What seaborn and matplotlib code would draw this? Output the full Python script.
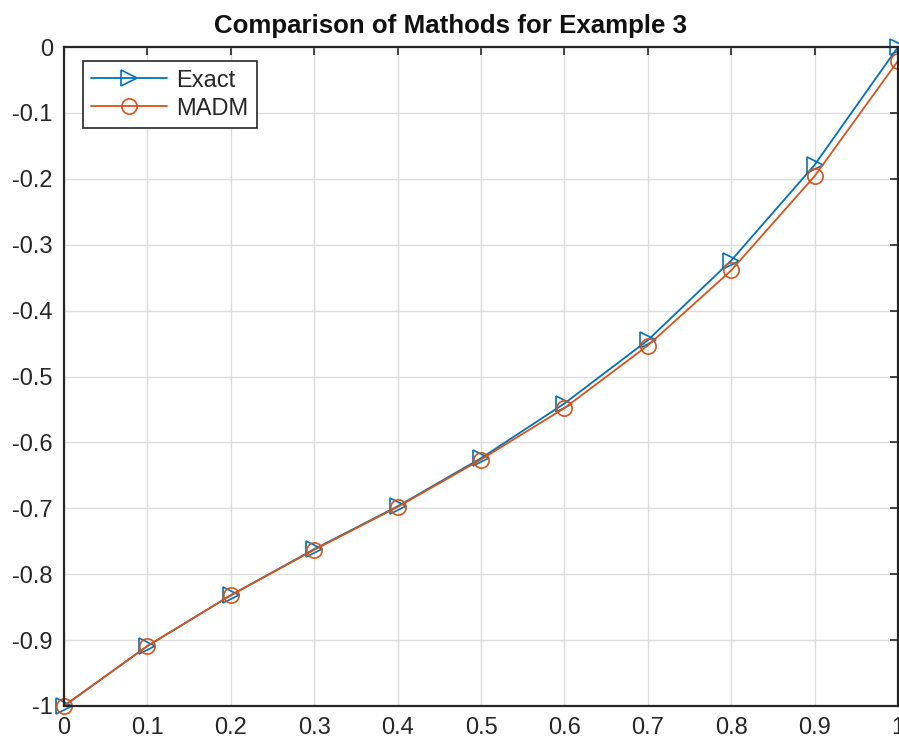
import matplotlib
matplotlib.use("Agg")
import matplotlib.pyplot as plt
import seaborn as sns
import numpy as np

x_vals = [0.0, 0.1, 0.2, 0.3, 0.4, 0.5, 0.6, 0.7, 0.8, 0.9, 1.0]
exact_vals = [-1.0, -0.909, -0.832, -0.762, -0.697, -0.624, -0.541, -0.445, -0.324, -0.179, 0.0]
madm_vals = [-1.0, -0.909, -0.832, -0.763, -0.698, -0.626, -0.548, -0.453, -0.339, -0.196, -0.021]
x_ticks = [0, 0.1, 0.2, 0.3, 0.4, 0.5, 0.6, 0.7, 0.8, 0.9, 1]
x_tick_labels = ["0", "0.1", "0.2", "0.3", "0.4", "0.5", "0.6", "0.7", "0.8", "0.9", "1"]
y_ticks = [-1, -0.9, -0.8, -0.7, -0.6, -0.5, -0.4, -0.3, -0.2, -0.1, 0]
y_tick_labels = ["-1", "-0.9", "-0.8", "-0.7", "-0.6", "-0.5", "-0.4", "-0.3", "-0.2", "-0.1", "0"]
title_text = "Comparison of Mathods for Example 3"

sns.set_style("white")
plt.rcParams['font.family'] = ['Liberation Sans', 'DejaVu Sans']
plt.rcParams['axes.unicode_minus'] = False

blue = "#0072BD"
orange = "#D95319"
frame = "#262626"

fig = plt.figure(figsize=(8.99, 7.49), dpi=100)
ax = fig.add_axes([64/899, 1 - 706/749, (898-64)/899, (706-47)/749])

sns.lineplot(x=x_vals, y=exact_vals, ax=ax, color=blue, linewidth=1.3,
             marker='>', markersize=11, markerfacecolor='none',
             markeredgecolor=blue, markeredgewidth=1.2, label='Exact')
sns.lineplot(x=x_vals, y=madm_vals, ax=ax, color=orange, linewidth=1.3,
             marker='o', markersize=11, markerfacecolor='none',
             markeredgecolor=orange, markeredgewidth=1.2, label='MADM')

for l in ax.get_lines():
    l.set_clip_on(False)

ax.set_xlim(0, 1)
ax.set_ylim(-1, 0)
ax.set_xticks(x_ticks)
ax.set_xticklabels(x_tick_labels)
ax.set_yticks(y_ticks)
ax.set_yticklabels(y_tick_labels)
ax.tick_params(direction='in', length=6, width=1.2, color=frame,
               labelsize=17, labelcolor=frame, top=True, right=True,
               labeltop=False, labelright=False, pad=8)
ax.grid(True, color='#dcdcdc', linewidth=1.0)
for s in ax.spines.values():
    s.set_visible(True)
    s.set_color(frame)
    s.set_linewidth(1.6)
ax.set_xlabel("")
ax.set_ylabel("")

fig.text(451/899, 1 - 33/749, title_text, ha='center', va='baseline',
         fontsize=18.6, fontweight='bold', color='#111111')

leg = ax.legend(loc='upper left', bbox_to_anchor=(0.023, 0.978), fontsize=17,
                frameon=True, fancybox=False, edgecolor=frame, framealpha=1,
                handlelength=3.2, borderpad=0.35, labelspacing=0.25,
                handletextpad=0.4, borderaxespad=0)
leg.get_frame().set_linewidth(1.2)

fig.savefig("out.png", dpi=100, facecolor='white')
